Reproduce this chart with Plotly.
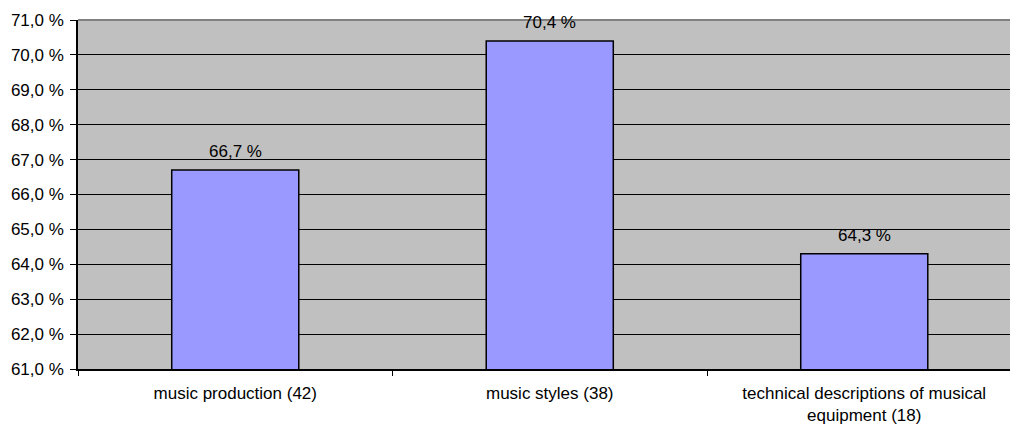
import plotly.graph_objects as go

categories = ["music production (42)", "music styles (38)",
              "technical descriptions of musical<br>equipment (18)"]
values = [66.7, 70.4, 64.3]

FONT = "Liberation Sans, Arial, sans-serif"
FS = 17

fig = go.Figure()
fig.add_trace(go.Bar(
    x=categories, y=values, width=0.404,
    marker=dict(color="#9999FF", line=dict(color="black", width=1.5)),
    hoverinfo="skip",
))

for c, v in zip(categories, values):
    fig.add_annotation(x=c, y=v, text=f"{v:.1f} %".replace(".", ","),
                       showarrow=False, yanchor="bottom", yshift=7,
                       font=dict(family=FONT, size=FS, color="black"))

fig.add_shape(type="line", xref="paper", yref="paper", x0=0, x1=1, y0=1, y1=1,
              line=dict(color="#808080", width=2), layer="above")

fig.update_layout(
    width=1010, height=428,
    margin=dict(l=78, r=0, t=20, b=58.5),
    paper_bgcolor="white", plot_bgcolor="#C0C0C0",
    separators=", ",
    showlegend=False,
    font=dict(family=FONT, size=FS, color="black"),
    xaxis=dict(
        type="category", range=[-0.5, 2.4634],
        tickson="boundaries", ticks="outside", ticklen=5, tickcolor="black",
        showline=True, linecolor="black", linewidth=1.5,
        showgrid=False, zeroline=False, ticklabelstandoff=8,
        tickfont=dict(family=FONT, size=FS, color="black"),
    ),
    yaxis=dict(
        range=[61, 71], dtick=1, tick0=61, tickformat=".1f", ticksuffix=" %",
        ticks="outside", ticklen=6, tickcolor="black",
        showline=True, linecolor="black", linewidth=1.5,
        showgrid=True, gridcolor="black", gridwidth=1, zeroline=False,
        ticklabelstandoff=3,
        tickfont=dict(family=FONT, size=FS, color="black"),
    ),
)

fig.write_html("out.html")
